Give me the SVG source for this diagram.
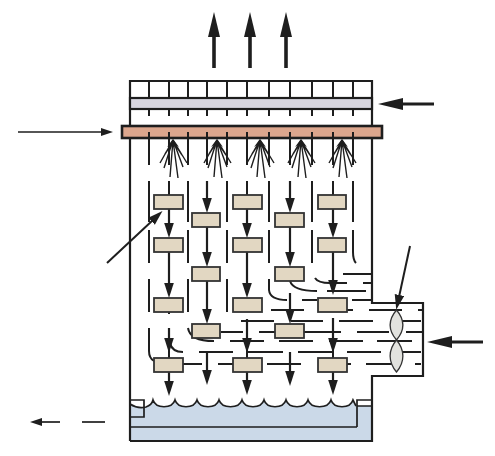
<svg xmlns="http://www.w3.org/2000/svg" xmlns:xlink="http://www.w3.org/1999/xlink" width="495" height="456" viewBox="0 0 495 456">
<style>
.w{fill:none;stroke:#1e1e1e;stroke-width:2.2}
.l{fill:none;stroke:#1e1e1e;stroke-width:2}
.r{fill:#e2d7c2;stroke:#333;stroke-width:1.8}
.h{fill:none;stroke:#1e1e1e;stroke-width:3.6}
.a{fill:none;stroke:#1e1e1e;stroke-width:2.2;marker-end:url(#m)}
.t{fill:none;stroke:#1e1e1e;stroke-width:1.7}
.s{fill:none;stroke:#1e1e1e;stroke-width:1.4}
.lens{fill:#e2e2de;stroke:#333;stroke-width:1.3}
</style>
<defs>
<marker id="H" markerUnits="userSpaceOnUse" markerWidth="26" markerHeight="13" refX="2" refY="6.500" orient="auto"><path d="M0,0.500 L25,6.500 L0,12.500 Z" fill="#1e1e1e"/></marker>
<marker id="m" markerUnits="userSpaceOnUse" markerWidth="16" markerHeight="10" refX="2" refY="5" orient="auto"><path d="M0,0.200 L15,5 L0,9.800Z" fill="#1e1e1e"/></marker>
<marker id="n" markerUnits="userSpaceOnUse" markerWidth="13" markerHeight="9" refX="2" refY="4.500" orient="auto"><path d="M0,0.500 L12,4.500 L0,8.500 Z" fill="#1e1e1e"/></marker>
<g id="sp"><path class="s" d="M0,0 L-13,23 M0,0 L-9,28 M0,0 L-3,37 M0,0 L5,38 M0,0 L10,27 M0,0 L14,23 M-1,3 L-8,14 M1,3 L9,15"/><path d="M-6,7 L0,-1 L6,7 L0,3Z" fill="#1e1e1e"/></g>
</defs>
<g id="water">
<path d="M130,404 C136,408 142,408 146,407 C149,406 152,404 153,400 C156,409 172,409 175,400 C178,409 194,409 197,400 C200,409 216,409 219,400 C222,409 239,409 242,400 C245,409 261,409 264,400 C267,409 283,409 286,400 C289,409 305,409 308,400 C311,409 328,409 331,400 C334,409 350,409 353,400 L356,406 L372,406 L372,440 L130,440Z" fill="#cbd9e8"/>
<path class="t" d="M130,404 C136,408 142,408 146,407 C149,406 152,404 153,400 C156,409 172,409 175,400 C178,409 194,409 197,400 C200,409 216,409 219,400 C222,409 239,409 242,400 C245,409 261,409 264,400 C267,409 283,409 286,400 C289,409 305,409 308,400 C311,409 328,409 331,400 C334,409 350,409 353,400 L356,406"/>
<path class="t" d="M130,400 H144 V417 H130 M357,427 H130 M357,427 V400 H372 M357,406 H372"/>
</g>
<g id="vessel">
<path class="w" d="M130,441 V138 M130,126 V81 H372 V126 M372,138 V303 H423 V376 H372 V441 H130"/>
</g>
<g id="top-grid">
<path class="l" d="M149,81V116M169,81V116M188,81V116M207,81V116M227,81V116M247,81V116M269,81V116M290,81V116M312,81V116M333,81V116M353,81V116"/>
<rect x="130" y="98" width="242" height="11" fill="#d8d6e0" stroke="#1e1e1e" stroke-width="2.200"/>
</g>
<g id="spray-bar"><rect x="122" y="126" width="260" height="12" fill="#dca68d" stroke="#1e1e1e" stroke-width="2.600"/></g>
<g id="sprays">
<use xlink:href="#sp" href="#sp" x="173" y="140"/>
<use xlink:href="#sp" href="#sp" x="217" y="140"/>
<use xlink:href="#sp" href="#sp" x="260" y="140"/>
<use xlink:href="#sp" href="#sp" x="301" y="140"/>
<use xlink:href="#sp" href="#sp" x="342" y="140"/>
</g>
<g id="connectors">
<path class="l" d="M149,132V165M169,132V165M188,132V165M207,132V165M227,132V165M247,132V165M269,132V165M290,132V165M312,132V165M333,132V165M353,132V165"/>
<path class="l" d="M149,181V222M188,181V222M227,181V222M269,181V222M312,181V222M353,181V222M149,230V263M188,230V263M227,230V263M269,230V263M312,230V263M149,279V312M188,279V312M227,279V312M353,230V252Q353,260 356,263"/>
<path class="l" d="M269,279V290Q270,300 287,300M149,328V351Q149,358 154,361M188,328Q190,341 214,341M315,278Q318,283 330,283H347M290,281Q293,291 317,291M170,343Q172,352 183,352"/>
<path class="l" d="M343,274H372M363,283H372M327,291H366M302,300H317M352,300H372M271,310H304M347,310H353M369,310H402M418,310H423M241,321H274M291,321H323M339,321H373M402,321H421M221,332H243M259,332H275M304,332H341M357,332H389M406,332H422M230,341H264M279,341H313M329,341H363M377,341H412M199,352H233M248,352H283M298,352H333M347,352H381M402,352H421M183,364H202M218,364H233M267,364H301M347,364H351M366,364H392M415,364H421"/>
<path class="l" d="M169,181V195M247,181V195M333,181V195M247,319V358M333,318V358M169,328V358M169,312V314"/>
<path class="a" d="M207,181V200"/>
<path class="a" d="M290,181V200"/>
<path class="a" d="M169,209V225"/>
<path class="a" d="M247,209V225"/>
<path class="a" d="M333,209V225"/>
<path class="a" d="M207,227V254"/>
<path class="a" d="M290,227V254"/>
<path class="a" d="M169,252V285"/>
<path class="a" d="M247,252V285"/>
<path class="a" d="M333,252V282"/>
<path class="a" d="M207,280V311"/>
<path class="a" d="M290,293V311"/>
<path class="a" d="M207,352V372"/>
<path class="a" d="M290,352V373"/>
<path class="a" d="M169,372V383"/>
<path class="a" d="M247,372V382"/>
<path class="a" d="M333,372V382"/>
<path class="a" d="M169,328V340"/>
<path class="a" d="M247,319V340"/>
<path class="a" d="M333,318V340"/>
<path class="h" marker-end="url(#H)" d="M214,68V35"/>
<path class="h" marker-end="url(#H)" d="M250,68V35"/>
<path class="h" marker-end="url(#H)" d="M286,68V35"/>
<path class="h" style="stroke-width:3.200" marker-end="url(#H)" d="M434,104H401"/>
<path class="h" style="stroke-width:3.200" marker-end="url(#H)" d="M483,342H450"/>
<path class="t" marker-end="url(#n)" d="M18,132H103"/>
<path class="t" style="stroke-width:2" marker-end="url(#m)" d="M107,263L153,220"/>
<path class="t" style="stroke-width:2" marker-end="url(#m)" d="M410,246L399,297"/>
<path class="t" marker-end="url(#n)" d="M60,422H40"/>
<path class="t" d="M82,422H105"/>
</g>
<g id="rect-1"><rect class="r" x="154" y="195" width="29" height="14"/></g>
<g id="rect-2"><rect class="r" x="233" y="195" width="29" height="14"/></g>
<g id="rect-3"><rect class="r" x="318" y="195" width="28" height="14"/></g>
<g id="rect-4"><rect class="r" x="192" y="213" width="28" height="14"/></g>
<g id="rect-5"><rect class="r" x="275" y="213" width="29" height="14"/></g>
<g id="rect-6"><rect class="r" x="154" y="238" width="29" height="14"/></g>
<g id="rect-7"><rect class="r" x="233" y="238" width="29" height="14"/></g>
<g id="rect-8"><rect class="r" x="318" y="238" width="28" height="14"/></g>
<g id="rect-9"><rect class="r" x="192" y="267" width="28" height="14"/></g>
<g id="rect-10"><rect class="r" x="275" y="267" width="29" height="14"/></g>
<g id="rect-11"><rect class="r" x="154" y="298" width="29" height="14"/></g>
<g id="rect-12"><rect class="r" x="233" y="298" width="29" height="14"/></g>
<g id="rect-13"><rect class="r" x="318" y="298" width="29" height="14"/></g>
<g id="rect-14"><rect class="r" x="192" y="324" width="28" height="14"/></g>
<g id="rect-15"><rect class="r" x="275" y="324" width="29" height="14"/></g>
<g id="rect-16"><rect class="r" x="154" y="358" width="29" height="14"/></g>
<g id="rect-17"><rect class="r" x="233" y="358" width="29" height="14"/></g>
<g id="rect-18"><rect class="r" x="318" y="358" width="29" height="14"/></g>
<g id="damper-1"><path class="lens" d="M396.500,310 C388,320 388,330 396.500,340 C405,330 405,320 396.500,310Z"/></g>
<g id="damper-2"><path class="lens" d="M396.500,340 C388,350 388,362 396.500,372 C405,362 405,350 396.500,340Z"/></g>
</svg>
